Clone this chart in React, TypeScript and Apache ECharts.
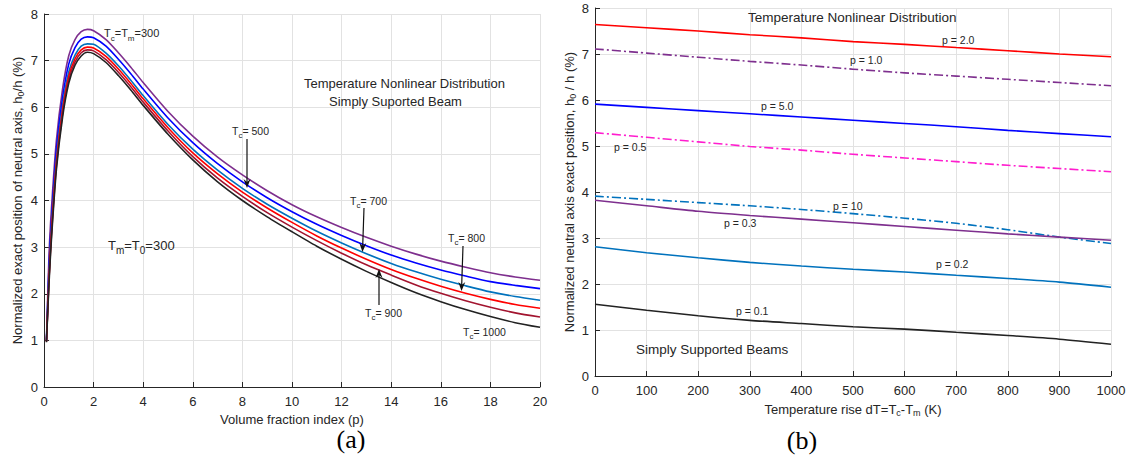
import React, { useEffect, useRef } from 'react';
import * as echarts from 'echarts';

// ---------- Data: left chart (a) ----------
const pIndex = [0.1, 0.2, 0.3, 0.5, 0.75, 1, 1.25, 1.5, 1.75, 2, 2.5, 3, 3.5, 4, 5, 6, 7, 8, 9, 10, 11, 12, 13, 14, 15, 16, 17, 18, 19, 20];
const tc300 = [1.02, 2.81, 3.82, 5.29, 6.40, 7.11, 7.45, 7.62, 7.67, 7.64, 7.45, 7.17, 6.86, 6.53, 5.91, 5.38, 4.93, 4.55, 4.21, 3.91, 3.65, 3.42, 3.21, 3.02, 2.85, 2.70, 2.57, 2.45, 2.36, 2.29];
const tc500 = [1.00, 2.57, 3.58, 5.09, 6.21, 6.93, 7.28, 7.46, 7.51, 7.49, 7.31, 7.03, 6.72, 6.39, 5.77, 5.24, 4.79, 4.40, 4.06, 3.76, 3.49, 3.25, 3.03, 2.83, 2.66, 2.51, 2.38, 2.26, 2.18, 2.11];
const tc700 = [0.99, 2.39, 3.41, 4.91, 6.04, 6.76, 7.12, 7.31, 7.36, 7.35, 7.16, 6.89, 6.58, 6.25, 5.63, 5.10, 4.65, 4.26, 3.92, 3.62, 3.34, 3.09, 2.86, 2.65, 2.47, 2.31, 2.17, 2.04, 1.94, 1.86];
const tc800 = [0.98, 2.32, 3.33, 4.82, 5.95, 6.67, 7.04, 7.23, 7.29, 7.27, 7.09, 6.82, 6.51, 6.18, 5.56, 5.02, 4.57, 4.18, 3.84, 3.53, 3.24, 2.98, 2.74, 2.52, 2.33, 2.16, 2.01, 1.88, 1.77, 1.69];
const tc900 = [0.97, 2.28, 3.25, 4.74, 5.87, 6.59, 6.97, 7.17, 7.23, 7.21, 7.02, 6.75, 6.44, 6.11, 5.49, 4.94, 4.48, 4.09, 3.74, 3.43, 3.14, 2.87, 2.62, 2.40, 2.19, 2.01, 1.85, 1.71, 1.59, 1.50];
const tc1000 = [0.96, 2.20, 3.17, 4.66, 5.79, 6.52, 6.90, 7.10, 7.18, 7.15, 6.96, 6.68, 6.37, 6.04, 5.42, 4.87, 4.40, 4.00, 3.65, 3.33, 3.02, 2.74, 2.48, 2.24, 2.02, 1.83, 1.66, 1.51, 1.38, 1.28];

// ---------- Data: right chart (b) ----------
const dT = [0, 100, 200, 300, 400, 500, 600, 700, 800, 900, 1000];
const p2_0 = [7.64, 7.57, 7.50, 7.42, 7.35, 7.27, 7.21, 7.14, 7.07, 7.00, 6.94];
const p1_0 = [7.11, 7.02, 6.93, 6.84, 6.76, 6.67, 6.59, 6.52, 6.45, 6.38, 6.31];
const p5_0 = [5.91, 5.84, 5.77, 5.70, 5.63, 5.56, 5.49, 5.42, 5.34, 5.27, 5.20];
const p0_5 = [5.29, 5.19, 5.09, 4.99, 4.91, 4.82, 4.74, 4.66, 4.58, 4.51, 4.44];
const p10 = [3.91, 3.84, 3.77, 3.70, 3.62, 3.53, 3.43, 3.32, 3.18, 3.02, 2.88];
const p0_3 = [3.82, 3.70, 3.58, 3.49, 3.41, 3.33, 3.25, 3.17, 3.09, 3.02, 2.95];
const p0_2 = [2.81, 2.68, 2.57, 2.47, 2.39, 2.32, 2.26, 2.19, 2.12, 2.04, 1.93];
const p0_1 = [1.56, 1.43, 1.31, 1.21, 1.14, 1.07, 1.02, 0.95, 0.88, 0.80, 0.69];

const FONT = '"Liberation Sans", Arial, Helvetica, sans-serif';
const SERIF = '"Liberation Serif", "Times New Roman", serif';
const INK = '#262626';

const DASHDOT = [9, 3, 2, 3];

function rich(main: number, sub: number, lh: number) {
  return {
    n: { fontSize: main, fontFamily: FONT, fill: INK, color: INK, lineHeight: lh },
    s: { fontSize: sub, fontFamily: FONT, fill: INK, color: INK, lineHeight: sub, verticalAlign: 'bottom' },
  };
}

function label(x: number, y: number, text: string, size: number, subSize = 8, align = 'left') {
  return {
    type: 'text',
    x,
    y,
    z: 100,
    style: {
      text,
      rich: rich(size, subSize, size + 7),
      fill: INK,
      fontSize: size,
      fontFamily: FONT,
      align,
      verticalAlign: 'middle',
    },
  };
}

function arrow(x1: number, y1: number, x2: number, y2: number) {
  const ang = Math.atan2(y2 - y1, x2 - x1);
  const L = 9, W = 3.5, back = 6;
  const ux = Math.cos(ang), uy = Math.sin(ang);
  const px = -uy, py = ux;
  const a = [x2 - ux * L + px * W, y2 - uy * L + py * W];
  const b = [x2 - ux * back, y2 - uy * back];
  const c = [x2 - ux * L - px * W, y2 - uy * L - py * W];
  return [
    { type: 'line', z: 100, shape: { x1, y1, x2: b[0], y2: b[1] }, style: { stroke: '#111', lineWidth: 1.2 } },
    { type: 'polygon', z: 100, shape: { points: [[x2, y2], a, b, c] }, style: { fill: '#111' } },
  ];
}

const axisBase = (gridIndex: number) => ({
  gridIndex,
  type: 'value',
  axisLine: { show: true, onZero: false, lineStyle: { color: INK, width: 1 } },
  axisTick: { show: true, inside: true, length: 5, lineStyle: { color: INK, width: 1 } },
  splitLine: { show: true, lineStyle: { color: '#e2e2e2', width: 1 } },
  nameLocation: 'middle',
});

const labelStyle = (margin: number) => ({
  color: INK, fontSize: 13, fontFamily: FONT, margin,
  formatter: (v: number) => String(v),
});
const nameStyle = { color: INK, fontSize: 13, fontFamily: FONT, rich: rich(13, 9, 16) };

function lineSeries(xi: number, yi: number, xs: number[], ys: number[], color: string, dashed = false, smooth: any = 0.25) {
  return {
    type: 'line',
    xAxisIndex: xi,
    yAxisIndex: yi,
    data: xs.map((x, i) => [x, ys[i]]),
    showSymbol: false,
    symbol: 'none',
    smooth,
    lineStyle: { color, width: 1.6, type: dashed ? DASHDOT : 'solid' },
    itemStyle: { color },
    silent: true,
  };
}

export default function App() {
  const ref = useRef<HTMLDivElement>(null);
  useEffect(() => {
    document.body.style.margin = '0';
    const chart = echarts.init(ref.current!, null, { renderer: 'svg' });
    const option: any = {
      animation: false,
      backgroundColor: '#ffffff',
      grid: [
        { left: 44, top: 14, width: 496, height: 373 },
        { left: 595, top: 8, width: 516, height: 368 },
      ],
      xAxis: [
        {
          ...axisBase(0), min: 0, max: 20, interval: 2,
          name: 'Volume fraction index (p)', nameGap: 21, nameTextStyle: nameStyle,
          axisLabel: labelStyle(8),
        },
        {
          ...axisBase(1), min: 0, max: 1000, interval: 100,
          name: '{n|Temperature rise dT=T}{s|c}{n|-T}{s|m}{n| (K)}', nameGap: 25, nameTextStyle: nameStyle,
          axisLabel: labelStyle(8),
        },
      ],
      yAxis: [
        {
          ...axisBase(0), min: 0, max: 8, interval: 1,
          name: '{n|Normalized exact position of neutral axis, h}{s|0}{n|/h (%)}', nameGap: 19, nameTextStyle: nameStyle,
          axisLabel: labelStyle(6),
        },
        {
          ...axisBase(1), min: 0, max: 8, interval: 1,
          name: '{n|Normalized neutral axis exact position, h}{s|0}{n| / h (%)}', nameGap: 18, nameTextStyle: nameStyle,
          axisLabel: labelStyle(6),
        },
      ],
      series: [
        lineSeries(0, 0, pIndex, tc300, '#7E2F8E'),
        lineSeries(0, 0, pIndex, tc500, '#0000FF'),
        lineSeries(0, 0, pIndex, tc700, '#0072BD'),
        lineSeries(0, 0, pIndex, tc800, '#FF0000'),
        lineSeries(0, 0, pIndex, tc900, '#A2142F'),
        lineSeries(0, 0, pIndex, tc1000, '#222222'),
        lineSeries(1, 1, dT, p2_0, '#FF0000'),
        lineSeries(1, 1, dT, p1_0, '#7E2F8E', true),
        lineSeries(1, 1, dT, p5_0, '#0000FF'),
        lineSeries(1, 1, dT, p0_5, '#FF1DCE', true),
        lineSeries(1, 1, dT, p10, '#0072BD', true),
        lineSeries(1, 1, dT, p0_3, '#7E2F8E'),
        lineSeries(1, 1, dT, p0_2, '#0072BD'),
        lineSeries(1, 1, dT, p0_1, '#222222'),
      ],
      graphic: [
        // left chart annotations
        label(104, 33, '{n|T}{s|c}{n|=T}{s|m}{n|=300}', 11),
        label(304, 83, '{n|Temperature Nonlinear Distribution}', 13),
        label(329, 101, '{n|Simply Suported Beam}', 13),
        label(232, 131, '{n|T}{s|c}{n|= 500}', 10.5),
        label(350, 201, '{n|T}{s|c}{n|= 700}', 10.5),
        label(448, 238, '{n|T}{s|c}{n|= 800}', 10.5),
        label(365, 313, '{n|T}{s|c}{n|= 900}', 10.5),
        label(463, 332, '{n|T}{s|c}{n|= 1000}', 10.5),
        label(108, 245, '{n|T}{s|m}{n|=T}{s|0}{n|=300}', 13, 10),
        ...arrow(247, 139, 247, 188),
        ...arrow(364, 208, 362.5, 252),
        ...arrow(463, 246, 461.5, 291),
        ...arrow(379, 305, 379, 269),
        {
          type: 'text', x: 351, y: 439, z: 100,
          style: { text: '(a)', fontSize: 26, fontFamily: SERIF, fill: '#000', align: 'center', verticalAlign: 'middle' },
        },
        // right chart annotations
        label(748, 17, '{n|Temperature Nonlinear Distribution}', 13.5),
        label(942, 40, '{n|p = 2.0}', 10.5),
        label(850, 60, '{n|p = 1.0}', 10.5),
        label(761, 106, '{n|p = 5.0}', 10.5),
        label(614, 147, '{n|p = 0.5}', 10.5),
        label(833, 206, '{n|p = 10}', 10.5),
        label(724, 223, '{n|p = 0.3}', 10.5),
        label(936, 264, '{n|p = 0.2}', 10.5),
        label(736, 311, '{n|p = 0.1}', 10.5),
        label(636, 349, '{n|Simply Supported Beams}', 13.5),
        {
          type: 'text', x: 802, y: 440, z: 100,
          style: { text: '(b)', fontSize: 26, fontFamily: SERIF, fill: '#000', align: 'center', verticalAlign: 'middle' },
        },
      ],
    };
    chart.setOption(option);
    return () => chart.dispose();
  }, []);
  return (
    <div
      ref={ref}
      style={{ position: 'absolute', left: 0, top: 0, width: 1131, height: 459, background: '#fff' }}
    />
  );
}
